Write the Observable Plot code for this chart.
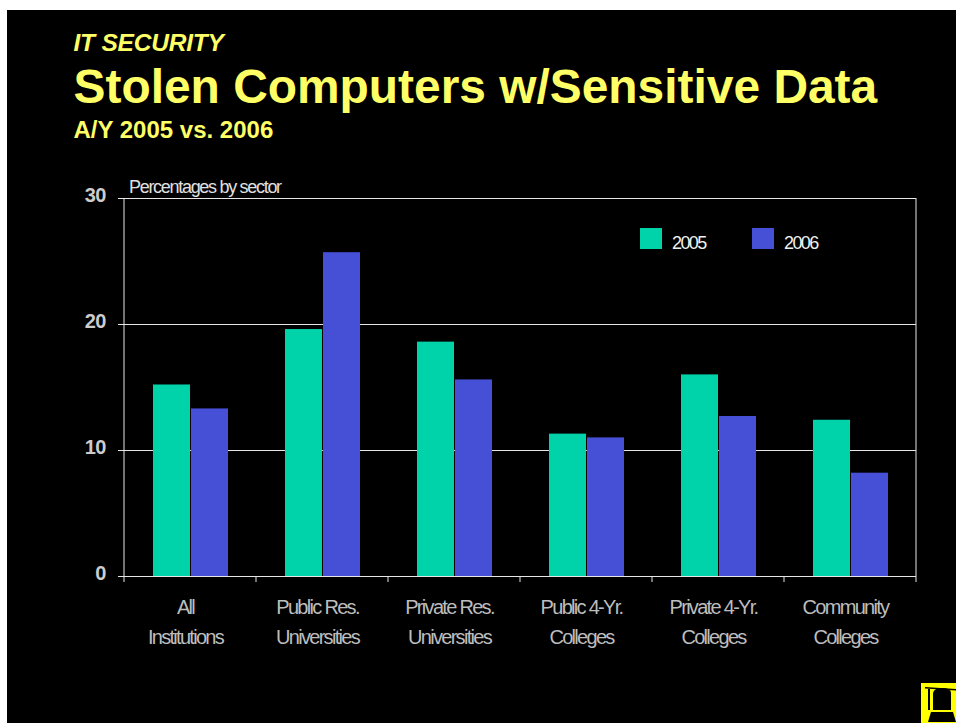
<!DOCTYPE html>
<html><head><meta charset="utf-8">
<script src="https://cdn.jsdelivr.net/npm/d3@7"></script>
<script src="https://cdn.jsdelivr.net/npm/@observablehq/plot@0.6"></script>
<style>
html,body{margin:0;padding:0;background:#fff;width:956px;height:723px;overflow:hidden}
#page{position:absolute;left:7px;top:10px;width:949px;height:713px;background:#000;font-family:"Liberation Sans",Arial,sans-serif}
.h{position:absolute;left:66.5px;color:#ffff66;font-weight:bold;white-space:nowrap;line-height:1}
#chart{position:absolute;left:-7px;top:140px}
#chart svg{display:block;background:transparent}
.sw{position:absolute;width:22px;height:21px;top:218px}
.lg{position:absolute;top:224px;color:#f0f0f0;font-size:18px;letter-spacing:-1.6px;line-height:1}
#note{position:absolute;left:122px;top:168px;color:#e0e0e0;font-size:18px;letter-spacing:-1.3px;line-height:1;white-space:nowrap}
#logo{position:absolute;left:914px;top:673px}
</style></head><body>
<div id="page">
<div class="h" style="top:21px;font-size:24.5px;font-style:italic;letter-spacing:-.2px">IT SECURITY</div>
<div class="h" style="top:53px;font-size:47.9px">Stolen Computers w/Sensitive Data</div>
<div class="h" style="top:108px;font-size:24px">A/Y 2005 vs. 2006</div>
<div id="chart"></div>
<div id="note">Percentages by sector</div>
<div class="sw" style="left:633px;background:#00d2aa"></div><div class="lg" style="left:665px">2005</div>
<div class="sw" style="left:745px;background:#4650d7"></div><div class="lg" style="left:777px">2006</div>
<svg id="logo" width="35" height="40" viewBox="0 0 35 40">
<rect width="35" height="40" fill="#ffff00"/>
<path d="M4 4 L35 6 L35 7.5 L4 5.5Z" fill="#000"/>
<path d="M7 6 L9 6 L9 27 L7 27Z" fill="#000"/>
<path d="M12 10 Q13 5 21 5 Q30 5 30 10 L30 27 L12 27Z" fill="#000"/>
<path d="M10 29 L32 29 L35 39 L7 39Z" fill="#000"/>
</svg>
</div>
<script>
const sectors = ["All\nInstitutions","Public Res.\nUniversities","Private Res.\nUniversities","Public 4-Yr.\nColleges","Private 4-Yr.\nColleges","Community\nColleges"];
const years = ["2005","2006"];
const values2005 = [15.2,19.6,18.6,11.3,16.0,12.4];
const values2006 = [13.3,25.7,15.6,11.0,12.7,8.2];
const yTicks = [0,10,20,30];
const colors = ["#00d2aa","#4650d7"];
const rows = sectors.flatMap((s,i)=>[
  {sector:s,year:years[0],value:values2005[i]},
  {sector:s,year:years[1],value:values2006[i]}
]);
const axisColor = "#e6e6e6";
const chart = Plot.plot({
  width:956,height:583,
  marginTop:48,marginBottom:157,marginLeft:123,marginRight:40,
  style:{background:"transparent",fontFamily:"'Liberation Sans',Arial,sans-serif"},
  fx:{domain:sectors,padding:0,label:null},
  x:{domain:years,paddingInner:0.03,paddingOuter:0.73,axis:null},
  y:{domain:[0,30],label:null},
  color:{domain:years,range:colors},
  marks:[
    Plot.ruleY(yTicks,{stroke:axisColor,strokeWidth:1}),
    Plot.barY(rows,{fx:"sector",x:"year",y:"value",fill:"year"}),
    Plot.axisY({ticks:yTicks,tickSize:6,text:null,stroke:axisColor,label:null}),
    Plot.axisY({ticks:yTicks,tickSize:0,tickPadding:19,dy:-3,fill:"#cccccc",fontSize:20,fontWeight:"bold",label:null,tickFormat:d=>d}),
    Plot.axisFx({anchor:"bottom",tickSize:0,tickPadding:16,lineHeight:1.5,dx:-5,fill:"#bdbdbd",fontSize:20,label:null})
  ]
});
document.getElementById("chart").appendChild(chart);
// band edges: sector ticks and the vertical plot borders, from the plot's own scales
const fx = chart.scale("fx"), y = chart.scale("y");
const svg = d3.select(chart);
const edges = sectors.map(s=>fx.apply(s)).concat(fx.apply(sectors[5])+fx.bandwidth);
const g = svg.append("g").attr("stroke",axisColor).attr("stroke-width",1);
g.selectAll(".t").data(edges).join("line").attr("x1",d=>d).attr("x2",d=>d).attr("y1",y.apply(0)).attr("y2",y.apply(0)+6);
[edges[0],edges[6]].forEach(x=>g.append("line").attr("x1",x).attr("x2",x).attr("y1",y.apply(30)).attr("y2",y.apply(0)));
svg.selectAll("[aria-label='fx-axis tick label'] text, [aria-label='fx-axis tick label'] tspan").style("letter-spacing","-1.7px");
svg.selectAll("[aria-label='y-axis tick label'] text").style("letter-spacing","-.8px");
</script>
</body></html>
